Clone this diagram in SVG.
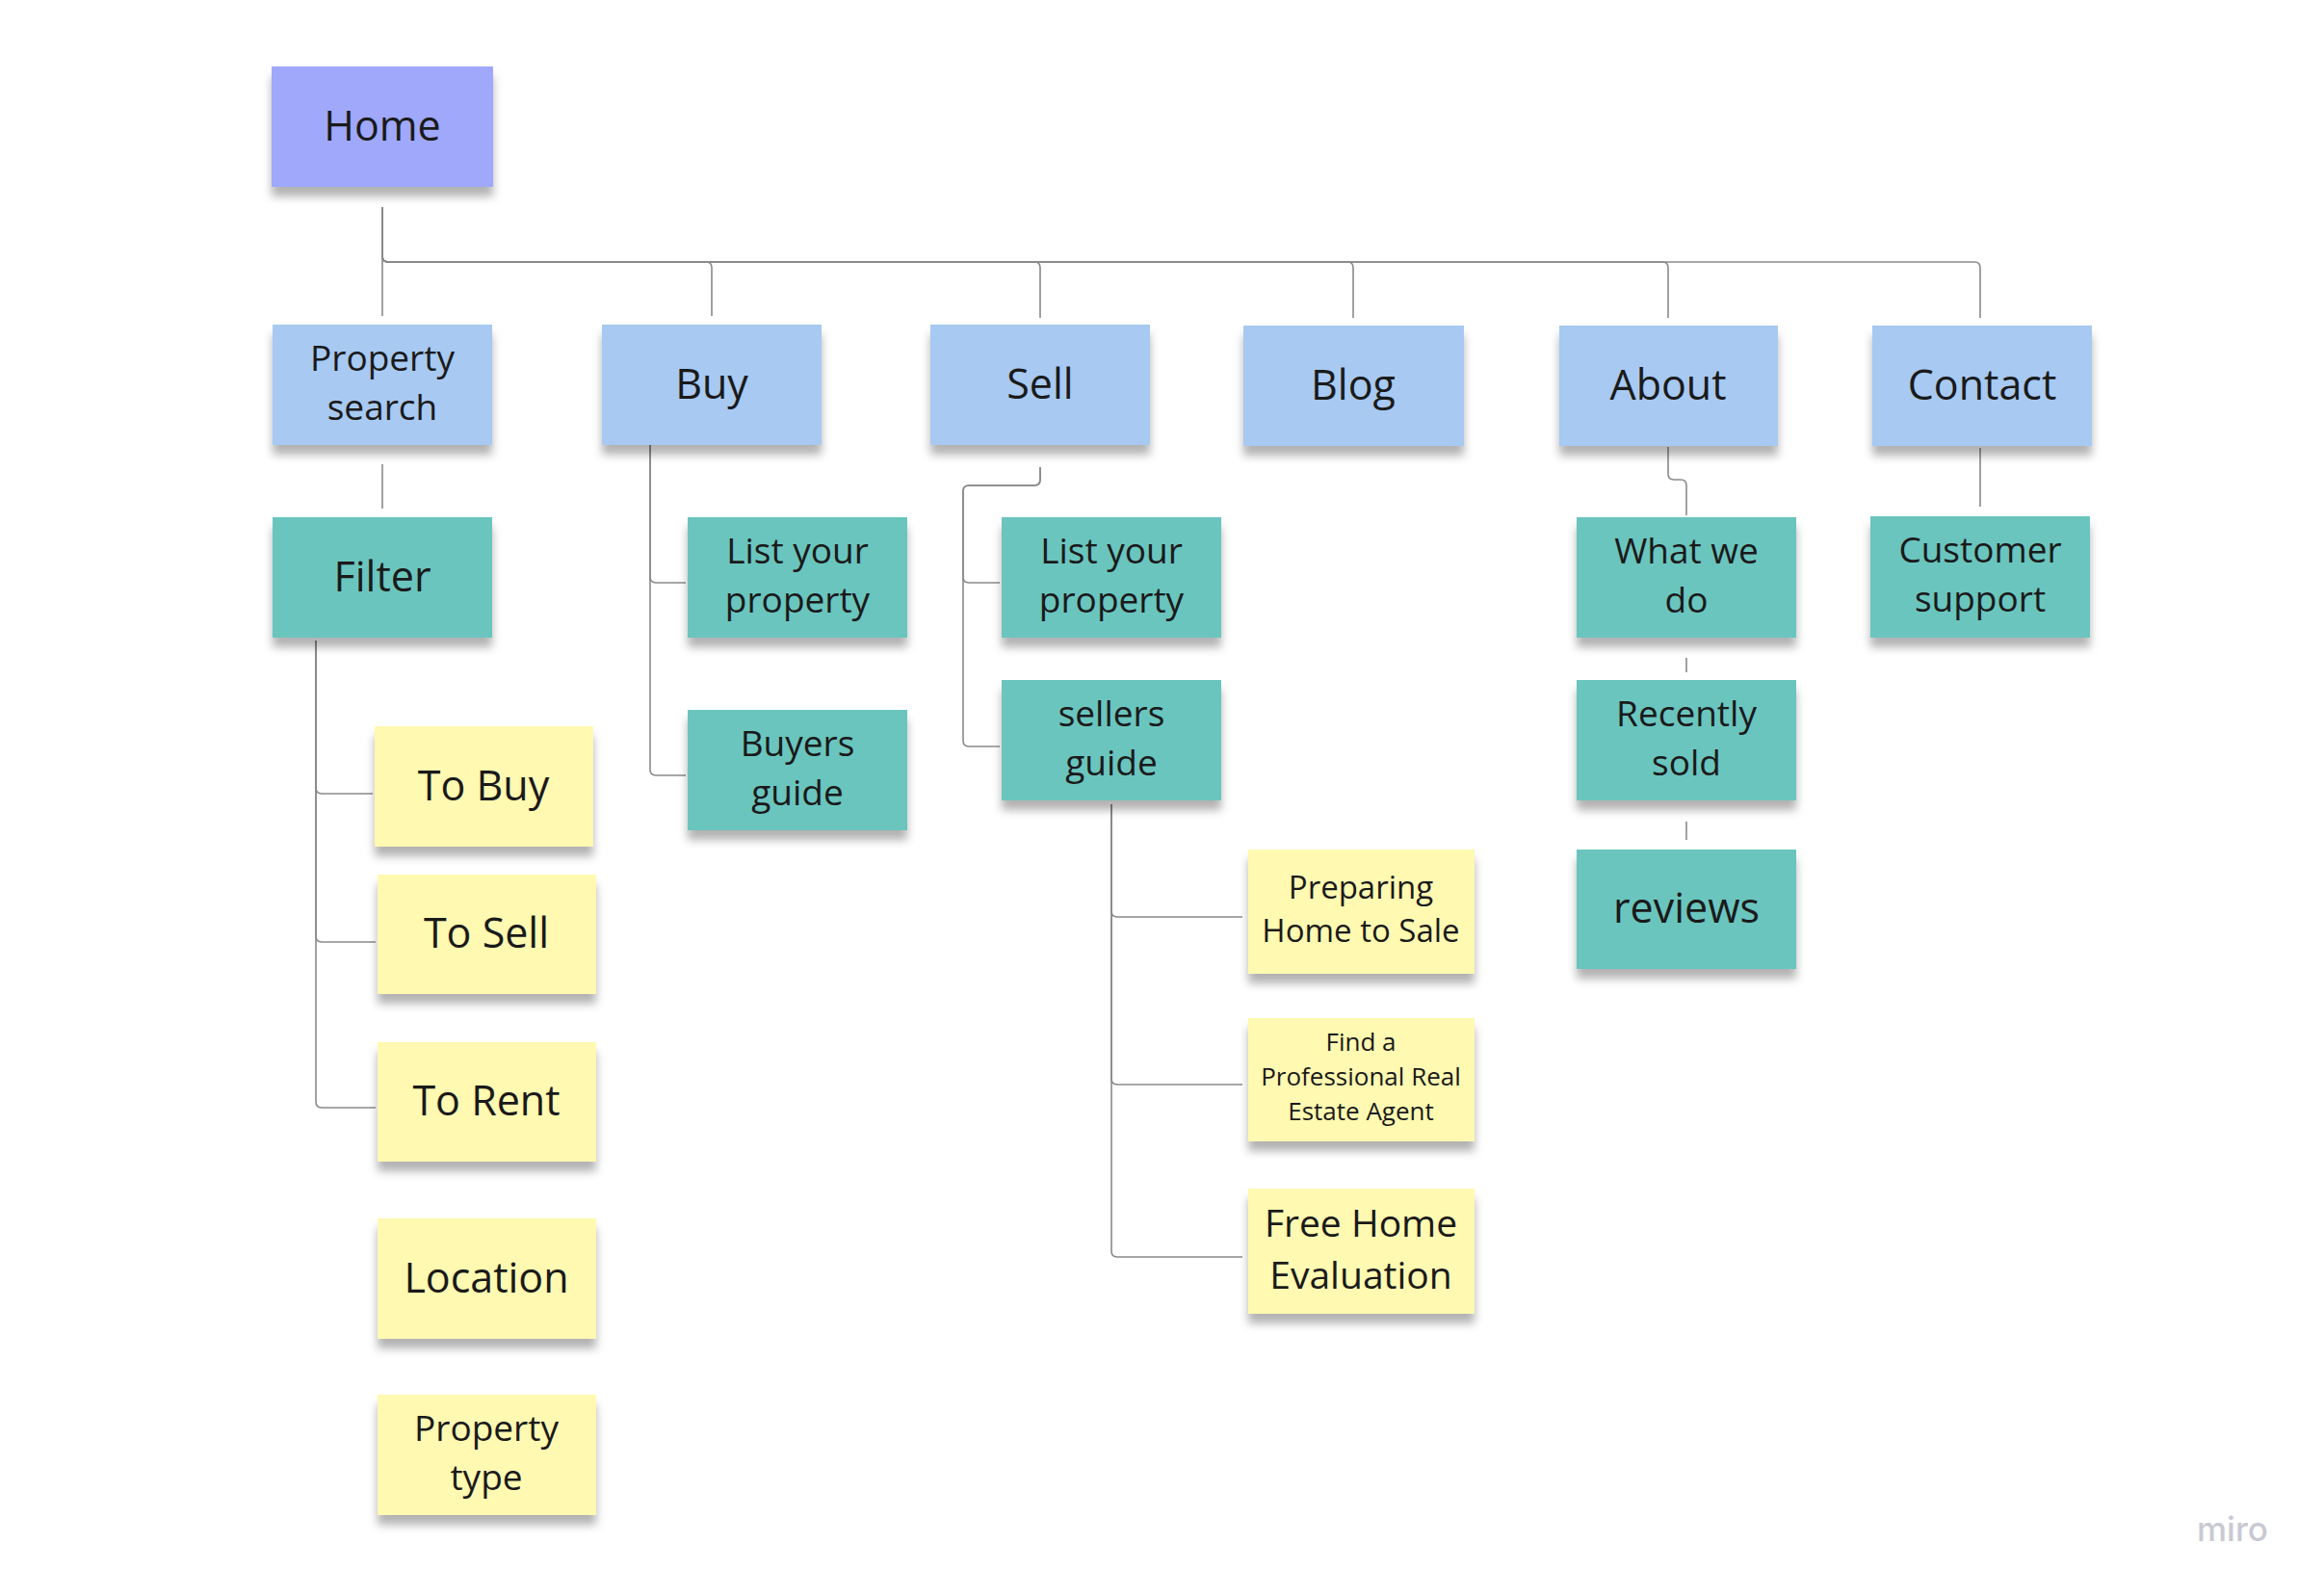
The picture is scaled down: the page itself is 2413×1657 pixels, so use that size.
<svg xmlns="http://www.w3.org/2000/svg" width="2413" height="1657" viewBox="0 0 2413 1657">
<style>
.note{filter:url(#sh)}
.home{fill:#9fa8fb}
.blue{fill:#a7c9f2}
.teal{fill:#6bc5be}
.yel{fill:#fff9b1}
text{font-family:"Open Sans","Noto Sans","Liberation Sans",sans-serif;fill:#1a1a1a;text-anchor:middle}
.t43{font-size:43px}
.t37{font-size:37px}
.t33{font-size:33px}
.t26{font-size:26px}
.t39{font-size:39px}
.conn path{fill:none;stroke:#8a8a8a;stroke-width:1.6}
</style>
<defs>
<filter id="sh" x="-10%" y="-10%" width="120%" height="135%">
<feDropShadow dx="0" dy="10" stdDeviation="5" flood-color="#000" flood-opacity="0.3"/>
</filter>
</defs>
<rect width="2413" height="1657" fill="#ffffff"/>
<g class="conn" id="connectors">
<path d="M397,215 V328"/>
<path d="M397,215 V266 Q397,272 403,272 H733 Q739,272 739,278 V328"/>
<path d="M397,215 V266 Q397,272 403,272 H1074 Q1080,272 1080,278 V330"/>
<path d="M397,215 V266 Q397,272 403,272 H1399 Q1405,272 1405,278 V330"/>
<path d="M397,215 V266 Q397,272 403,272 H1726 Q1732,272 1732,278 V330"/>
<path d="M397,215 V266 Q397,272 403,272 H2050 Q2056,272 2056,278 V330"/>
<path d="M397,482 V528"/>
<path d="M328,665 V818 Q328,824 334,824 H387"/>
<path d="M328,665 V972 Q328,978 334,978 H390"/>
<path d="M328,665 V1144 Q328,1150 334,1150 H390"/>
<path d="M675,462 V599 Q675,605 681,605 H712"/>
<path d="M675,462 V799 Q675,805 681,805 H712"/>
<path d="M1080,485 V498 Q1080,504 1074,504 H1006 Q1000,504 1000,510 V599 Q1000,605 1006,605 H1038"/>
<path d="M1080,485 V498 Q1080,504 1074,504 H1006 Q1000,504 1000,510 V769 Q1000,775 1006,775 H1038"/>
<path d="M1154,835 V946 Q1154,952 1160,952 H1290"/>
<path d="M1154,835 V1120 Q1154,1126 1160,1126 H1290"/>
<path d="M1154,835 V1299 Q1154,1305 1160,1305 H1290"/>
<path d="M1732,464 V492 Q1732,498 1738,498 H1745 Q1751,498 1751,504 V535"/>
<path d="M1751,683 V698"/>
<path d="M1751,853 V872"/>
<path d="M2056,465 V526"/>
</g>
<g id="home"><rect class="note home" x="282" y="69" width="230" height="125"/><text class="t43" x="397" y="146">Home</text></g>
<g id="property-search"><rect class="note blue" x="283" y="337" width="228" height="125"/><text class="t37" x="397" y="385">Property</text><text class="t37" x="397" y="436">search</text></g>
<g id="buy"><rect class="note blue" x="625" y="337" width="228" height="125"/><text class="t43" x="739" y="414">Buy</text></g>
<g id="sell"><rect class="note blue" x="966" y="337" width="228" height="125"/><text class="t43" x="1080" y="414">Sell</text></g>
<g id="blog"><rect class="note blue" x="1291" y="338" width="229" height="125"/><text class="t43" x="1405" y="415">Blog</text></g>
<g id="about"><rect class="note blue" x="1619" y="338" width="227" height="125"/><text class="t43" x="1732" y="415">About</text></g>
<g id="contact"><rect class="note blue" x="1944" y="338" width="228" height="125"/><text class="t43" x="2058" y="415">Contact</text></g>
<g id="filter"><rect class="note teal" x="283" y="537" width="228" height="125"/><text class="t43" x="397" y="614">Filter</text></g>
<g id="buy-list"><rect class="note teal" x="714" y="537" width="228" height="125"/><text class="t37" x="828" y="585">List your</text><text class="t37" x="828" y="636">property</text></g>
<g id="buyers-guide"><rect class="note teal" x="714" y="737" width="228" height="125"/><text class="t37" x="828" y="785">Buyers</text><text class="t37" x="828" y="836">guide</text></g>
<g id="sell-list"><rect class="note teal" x="1040" y="537" width="228" height="125"/><text class="t37" x="1154" y="585">List your</text><text class="t37" x="1154" y="636">property</text></g>
<g id="sellers-guide"><rect class="note teal" x="1040" y="706" width="228" height="125"/><text class="t37" x="1154" y="754">sellers</text><text class="t37" x="1154" y="805">guide</text></g>
<g id="what-we-do"><rect class="note teal" x="1637" y="537" width="228" height="125"/><text class="t37" x="1751" y="585">What we</text><text class="t37" x="1751" y="636">do</text></g>
<g id="recently-sold"><rect class="note teal" x="1637" y="706" width="228" height="125"/><text class="t37" x="1751" y="754">Recently</text><text class="t37" x="1751" y="805">sold</text></g>
<g id="reviews"><rect class="note teal" x="1637" y="882" width="228" height="124"/><text class="t43" x="1751" y="958">reviews</text></g>
<g id="customer-support"><rect class="note teal" x="1942" y="536" width="228" height="126"/><text class="t37" x="2056" y="584">Customer</text><text class="t37" x="2056" y="635">support</text></g>
<g id="to-buy"><rect class="note yel" x="389" y="754" width="227" height="125"/><text class="t43" x="502" y="831">To Buy</text></g>
<g id="to-sell"><rect class="note yel" x="392" y="908" width="227" height="124"/><text class="t43" x="505" y="984">To Sell</text></g>
<g id="to-rent"><rect class="note yel" x="392" y="1082" width="227" height="124"/><text class="t43" x="505" y="1158">To Rent</text></g>
<g id="location"><rect class="note yel" x="392" y="1265" width="227" height="125"/><text class="t43" x="505" y="1342">Location</text></g>
<g id="property-type"><rect class="note yel" x="392" y="1448" width="227" height="125"/><text class="t37" x="505" y="1496">Property</text><text class="t37" x="505" y="1547">type</text></g>
<g id="preparing"><rect class="note yel" x="1296" y="882" width="235" height="129"/><text class="t33" x="1413" y="933">Preparing</text><text class="t33" x="1413" y="978">Home to Sale</text></g>
<g id="find-agent"><rect class="note yel" x="1296" y="1057" width="235" height="128"/><text class="t26" x="1413" y="1091">Find a</text><text class="t26" x="1413" y="1127">Professional Real</text><text class="t26" x="1413" y="1163">Estate Agent</text></g>
<g id="free-home"><rect class="note yel" x="1296" y="1234" width="235" height="130"/><text class="t39" x="1413" y="1284">Free Home</text><text class="t39" x="1413" y="1338">Evaluation</text></g>
<text x="2318" y="1600" style="font-family:'Inter','Liberation Sans',sans-serif;font-size:35px;fill:#c9c9d3;font-weight:500">miro</text>
</svg>
